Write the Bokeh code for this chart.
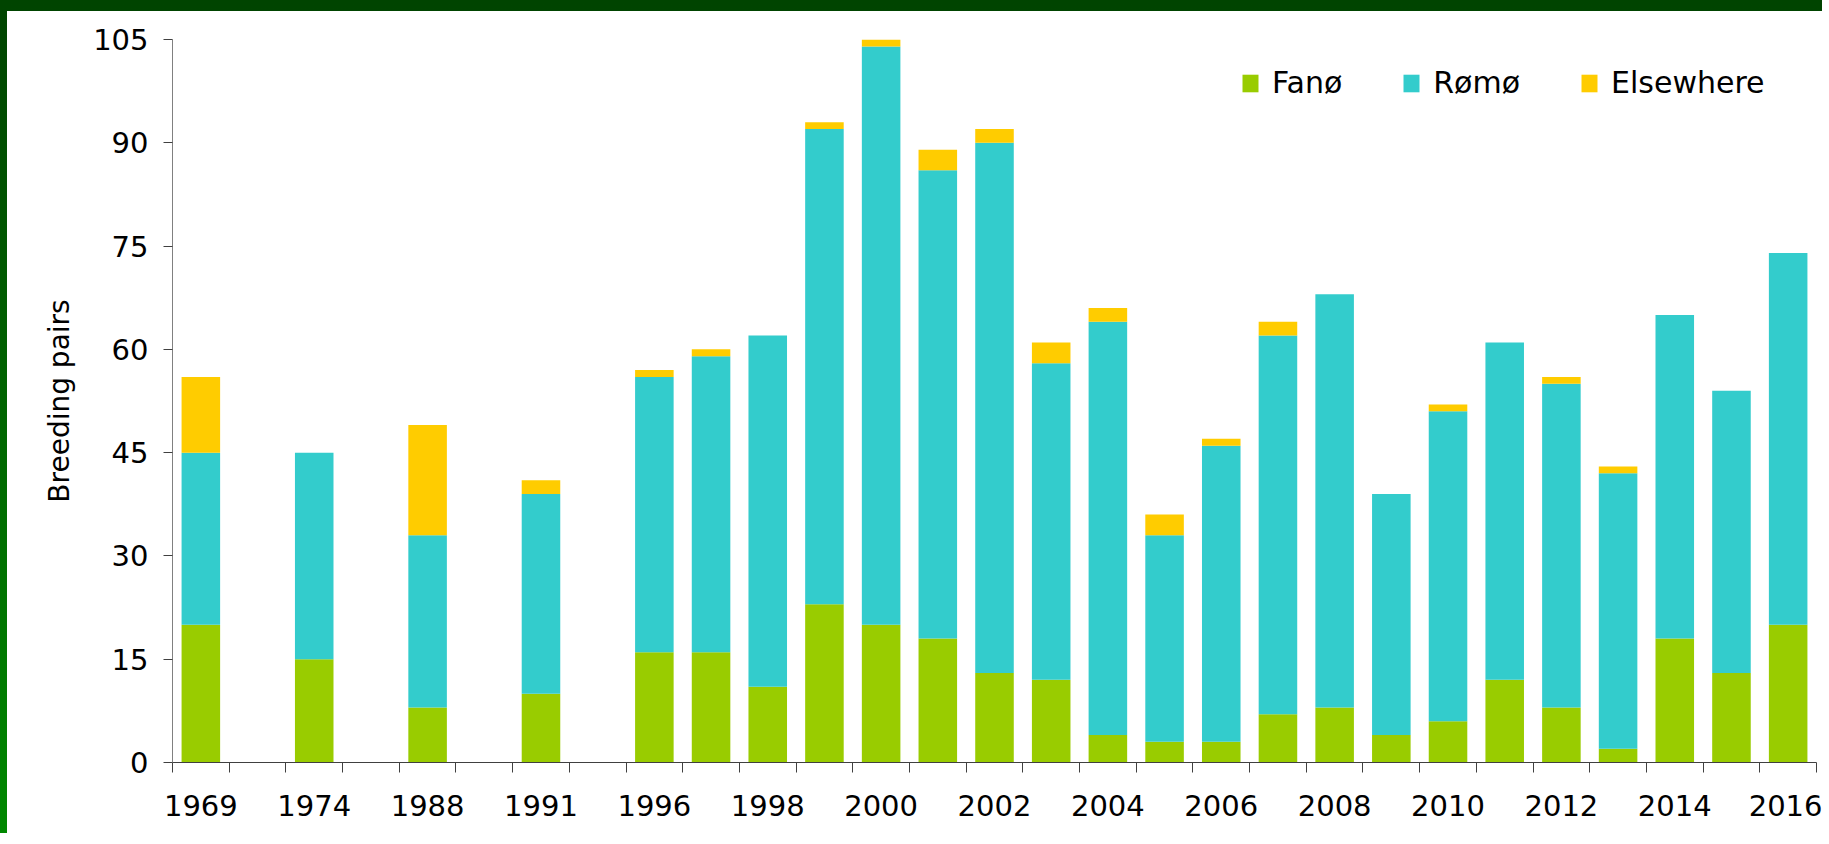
from bokeh.plotting import figure
from bokeh.models import FixedTicker, Legend, LegendItem, ColumnDataSource
from bokeh.embed import file_html
from bokeh.resources import INLINE

# ---- data ----
years = ["1969", "", "1974", "", "1988", "", "1991", "", "1996", "1997", "1998",
         "1999", "2000", "2001", "2002", "2003", "2004", "2005", "2006", "2007",
         "2008", "2009", "2010", "2011", "2012", "2013", "2014", "2015", "2016"]
fano = [20, 0, 15, 0, 8, 0, 10, 0, 16, 16, 11, 23, 20, 18, 13, 12, 4, 3, 3, 7,
        8, 4, 6, 12, 8, 2, 18, 13, 20]
romo = [25, 0, 30, 0, 25, 0, 29, 0, 40, 43, 51, 69, 84, 68, 77, 46, 60, 30, 43, 55,
        60, 35, 45, 49, 47, 40, 47, 41, 54]
elsewhere = [11, 0, 0, 0, 16, 0, 2, 0, 1, 1, 0, 1, 1, 3, 2, 3, 2, 3, 1, 2,
             0, 0, 1, 0, 1, 1, 0, 0, 0]
series_names = ["Fanø", "Rømø", "Elsewhere"]
series_colors = ["#99CC00", "#33CCCC", "#FFCC00"]
y_ticks = [0, 15, 30, 45, 60, 75, 90, 105]
y_title = "Breeding pairs"

FONT = "DejaVu Sans"

pos = list(range(len(years)))
src = ColumnDataSource(dict(x=pos, year=years, fano=fano, romo=romo, elsewhere=elsewhere))

p = figure(width=1822, height=833, x_range=(-0.5, len(years) - 0.5), y_range=(0, 105),
           output_backend="svg", toolbar_location=None,
           min_border_left=165, min_border_right=13, min_border_top=28, min_border_bottom=82)
p.background_fill_color = "white"
p.border_fill_color = "white"
p.outline_line_color = None
p.xgrid.visible = False
p.ygrid.visible = False
p.styles = {"border-top": "11px solid #004400", "border-left": "7px solid #006600",
            "border-image": "linear-gradient(to bottom, #004400, #008800) 1"}

renderers = p.vbar_stack(["fano", "romo", "elsewhere"], x="x", width=0.68, source=src,
                         fill_color=series_colors, line_color=None)

# x axis: labels on every other category, tick marks on category boundaries
xa = p.xaxis[0]
xa.ticker = FixedTicker(ticks=pos[::2], minor_ticks=[i - 0.5 for i in range(len(years) + 1)])
xa.major_label_overrides = {i: years[i] for i in pos[::2]}
xa.major_tick_out = 0
xa.major_tick_in = 0
xa.minor_tick_out = 10
xa.minor_tick_in = 0
xa.minor_tick_line_color = "#404040"
xa.axis_line_color = "#404040"
xa.major_label_text_font = FONT
xa.major_label_text_font_size = "29px"
xa.major_label_text_color = "black"
xa.major_label_standoff = 22

ya = p.yaxis[0]
ya.ticker = FixedTicker(ticks=y_ticks, minor_ticks=[])
ya.major_tick_out = 9
ya.major_tick_in = 0
ya.minor_tick_out = 0
ya.minor_tick_in = 0
ya.major_tick_line_color = "#404040"
ya.axis_line_color = "#808080"
ya.major_label_text_font = FONT
ya.major_label_text_font_size = "29px"
ya.major_label_text_color = "black"
ya.major_label_standoff = 15
ya.axis_label = y_title
ya.axis_label_text_font = FONT
ya.axis_label_text_font_size = "28px"
ya.axis_label_text_font_style = "normal"
ya.axis_label_text_color = "black"
ya.axis_label_standoff = 14

legend = Legend(items=[LegendItem(label=n, renderers=[r]) for n, r in zip(series_names, renderers)],
                orientation="horizontal", location=(1068, 662),
                glyph_width=20, glyph_height=22, label_standoff=12, spacing=59,
                padding=0, margin=0, border_line_color=None, background_fill_alpha=0,
                label_text_font=FONT, label_text_font_size="30px", label_text_color="black")
p.add_layout(legend)

open("out.html", "w").write(file_html(p, INLINE))
